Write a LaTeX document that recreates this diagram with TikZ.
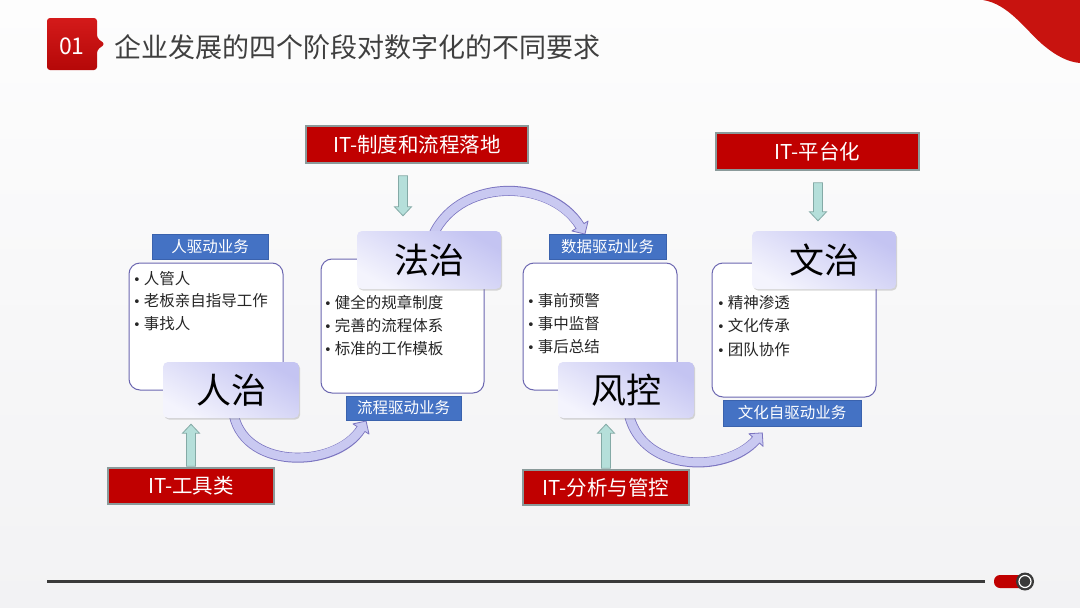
\documentclass[tikz,border=0pt]{standalone}
\usepackage{fontspec}
\setmainfont{Noto Sans CJK SC}
\newfontfamily\dvfont{DejaVu Sans}
\usetikzlibrary{calc,shadows}
\definecolor{itred}{HTML}{C00000}
\definecolor{itborder}{HTML}{8A9A9A}
\definecolor{blbl}{HTML}{4472C4}
\definecolor{blbldraw}{HTML}{3A62AD}
\definecolor{lavtop}{HTML}{C4C4F2}
\definecolor{lavbot}{HTML}{F4F4FD}
\definecolor{noteline}{HTML}{6B66B0}
\definecolor{bandline}{HTML}{7B74C0}
\definecolor{bandfill}{HTML}{C9C9F1}
\definecolor{tealfill}{HTML}{B5DFDA}
\definecolor{tealline}{HTML}{84AAA6}
\definecolor{titlegray}{HTML}{3F3F3F}
\definecolor{bgtop}{HTML}{FDFDFD}
\definecolor{bgbot}{HTML}{F2F2F4}
\definecolor{darkline}{HTML}{3A3A3A}
\definecolor{topred}{HTML}{C8130F}
\definecolor{badgetop}{HTML}{D41A1A}
\definecolor{badgebot}{HTML}{B50808}

\newcommand\bandarrow[4]{%
  \path ($(#4)!9.5pt!180:(#3)$) coordinate (#4-tip)
        ($(#4)!9.5pt!90:(#3)$) coordinate (#4-wa)
        ($(#4)!9.5pt!-90:(#3)$) coordinate (#4-wb)
        ($(#4)!1.5pt!180:(#3)$) coordinate (#4-ext);
  \filldraw[fill=bandfill, draw=bandline, line width=0.8pt, line join=round] (#4-tip) -- (#4-wa) -- (#4-wb) -- cycle;
  \draw[line width=10pt, bandline] (#1) .. controls (#2) and (#3) .. (#4);
  \draw[line width=8.4pt, bandfill] (#1) .. controls (#2) and (#3) .. (#4-ext);
}
\newcommand\blockarrow[2]{%
  \path ($(#2)!9pt!(#1)$) coordinate (#2-hb);
  \filldraw[fill=tealfill, draw=tealline, line width=0.8pt]
    ($(#1)!4.5pt!90:(#2)$) -- ($(#2-hb)!4.5pt!90:(#2)$) -- ($(#2-hb)!8.5pt!90:(#2)$) -- (#2)
    -- ($(#2-hb)!8.5pt!-90:(#2)$) -- ($(#2-hb)!4.5pt!-90:(#2)$) -- ($(#1)!4.5pt!-90:(#2)$) -- cycle;
}

\begin{document}
\begin{tikzpicture}[x=1pt,y=-1pt,
  stagebox/.style={rounded corners=5pt, top color=lavtop, bottom color=lavbot, shading angle=-30,
     drop shadow={shadow xshift=1.2pt, shadow yshift=-1.6pt, opacity=0.3},
     font=\fontsize{35}{40}\selectfont, text=black, inner sep=0pt},
  notebox/.style={rounded corners=11pt, draw=noteline, line width=1pt, fill=white, inner sep=0pt},
  redlabel/.style={fill=itred, draw=itborder, line width=1.6pt, text=white, inner sep=0pt,
     font=\fontsize{20.5}{24}\selectfont},
  bluelabel/.style={fill=blbl, draw=blbldraw, line width=0.6pt, text=white, inner sep=0pt,
     font=\fontsize{15.5}{18}\selectfont},
  itembul/.style={anchor=base west, inner sep=0pt, text=black!85, font=\fontsize{15.5}{18}\selectfont},
]
\useasboundingbox (0,0) rectangle (1080,608);
\shade[top color=bgtop, bottom color=bgbot] (0,0) rectangle (1080,608);

% top right red curve
\fill[topred] (983,0) .. controls (1008,4) and (1024,28) .. (1042,44)
   .. controls (1056,56) and (1068,62) .. (1080,63) -- (1080,0) -- cycle;

% title badge
\shade[top color=badgetop, bottom color=badgebot, rounded corners=3pt]
  (47,18) -- (97,18) -- (97,38) -- (105,44) -- (97,50) -- (97,70) -- (47,70) -- cycle;
\node[text=white, font=\fontsize{23}{26}\selectfont] (num) at (72,46) {01};
\node[anchor=west, text=titlegray, font=\fontsize{27}{31}\selectfont, inner sep=0pt] (title) at (114,47)
  {企业发展的四个阶段对数字化的不同要求};

% bottom line and slider
\draw[darkline, line width=3pt] (47,581) -- (985,581);
\fill[itred, rounded corners=6pt] (994,575) rectangle (1030,588);
\fill[darkline] (1025,581.5) circle (9);
\draw[white, line width=1.2pt] (1025,581.5) circle (6);

% note boxes
\node[notebox, minimum width=154pt, minimum height=127pt] (t1) at (206,326.5) {};
\node[notebox, minimum width=163pt, minimum height=134pt] (t2) at (402.5,326) {};
\node[notebox, minimum width=154pt, minimum height=127pt] (t3) at (600,326.5) {};
\node[notebox, minimum width=164pt, minimum height=134pt] (t4) at (794,330) {};

% bullets
\node[itembul] (t1a) at (133,284) {{\dvfont\fontsize{13}{15}\selectfont •}\hspace{3pt}人管人};
\node[itembul] (t1b) at (133,306) {{\dvfont\fontsize{13}{15}\selectfont •}\hspace{3pt}老板亲自指导工作};
\node[itembul] (t1c) at (133,329) {{\dvfont\fontsize{13}{15}\selectfont •}\hspace{3pt}事找人};

\node[itembul] (t2a) at (324,308) {{\dvfont\fontsize{13}{15}\selectfont •}\hspace{3pt}健全的规章制度};
\node[itembul] (t2b) at (324,331) {{\dvfont\fontsize{13}{15}\selectfont •}\hspace{3pt}完善的流程体系};
\node[itembul] (t2c) at (324,354) {{\dvfont\fontsize{13}{15}\selectfont •}\hspace{3pt}标准的工作模板};

\node[itembul] (t3a) at (527,306) {{\dvfont\fontsize{13}{15}\selectfont •}\hspace{3pt}事前预警};
\node[itembul] (t3b) at (527,329) {{\dvfont\fontsize{13}{15}\selectfont •}\hspace{3pt}事中监督};
\node[itembul] (t3c) at (527,352) {{\dvfont\fontsize{13}{15}\selectfont •}\hspace{3pt}事后总结};

\node[itembul] (t4a) at (717,308) {{\dvfont\fontsize{13}{15}\selectfont •}\hspace{3pt}精神渗透};
\node[itembul] (t4b) at (717,331) {{\dvfont\fontsize{13}{15}\selectfont •}\hspace{3pt}文化传承};
\node[itembul] (t4c) at (717,355) {{\dvfont\fontsize{13}{15}\selectfont •}\hspace{3pt}团队协作};

% curved band arrows (behind stage boxes)
\coordinate (a1s) at (233,410);
\coordinate (a1c1) at (240,470);
\coordinate (a1c2) at (335,470);
\coordinate (a1e) at (361,429);
\bandarrow{a1s}{a1c1}{a1c2}{a1e}

\coordinate (a2s) at (431,240);
\coordinate (a2c1) at (455,177);
\coordinate (a2c2) at (550,177);
\coordinate (a2e) at (580,226);
\bandarrow{a2s}{a2c1}{a2c2}{a2e}

\coordinate (a3s) at (628,410);
\coordinate (a3c1) at (638,472);
\coordinate (a3c2) at (725,475);
\coordinate (a3e) at (756,440);
\bandarrow{a3s}{a3c1}{a3c2}{a3e}

% stage boxes
\node[stagebox, minimum width=136pt, minimum height=56pt] (rz) at (231,390) {人治};
\node[stagebox, minimum width=144pt, minimum height=58pt] (fz) at (429,260) {法治};
\node[stagebox, minimum width=136pt, minimum height=56pt] (fk) at (626,390) {风控};
\node[stagebox, minimum width=144pt, minimum height=58pt] (wz) at (824,260) {文治};

% blue labels
\node[bluelabel, minimum width=116pt, minimum height=25pt] (b1) at (210,246.5) {人驱动业务};
\node[bluelabel, minimum width=115pt, minimum height=24pt] (b2) at (403.5,408) {流程驱动业务};
\node[bluelabel, minimum width=117pt, minimum height=25pt] (b3) at (607.5,246.5) {数据驱动业务};
\node[bluelabel, minimum width=138pt, minimum height=26pt] (b4) at (792,413) {文化自驱动业务};

% red labels
\node[redlabel, minimum width=166pt, minimum height=36pt] (it1) at (191,486) {IT-工具类};
\node[redlabel, minimum width=222pt, minimum height=37pt] (it2) at (417,144.5) {IT-制度和流程落地};
\node[redlabel, minimum width=166pt, minimum height=35pt] (it3) at (606,487.5) {IT-分析与管控};
\node[redlabel, minimum width=203pt, minimum height=37pt] (it4) at (817.5,151.5) {IT-平台化};

% teal block arrows
\coordinate (u1s) at ($(it1.north)+(0,-1)$);
\coordinate (u1t) at ($(it1.north)+(0,-43)$);
\blockarrow{u1s}{u1t}
\coordinate (d2s) at ($(it2.south)+(-14,12)$);
\coordinate (d2t) at ($(it2.south)+(-14,52)$);
\blockarrow{d2s}{d2t}
\coordinate (u3s) at ($(it3.north)+(0,-1)$);
\coordinate (u3t) at ($(it3.north)+(0,-45)$);
\blockarrow{u3s}{u3t}
\coordinate (d4s) at ($(it4.south)+(0.5,12)$);
\coordinate (d4t) at ($(it4.south)+(0.5,50)$);
\blockarrow{d4s}{d4t}
\end{tikzpicture}
\end{document}
